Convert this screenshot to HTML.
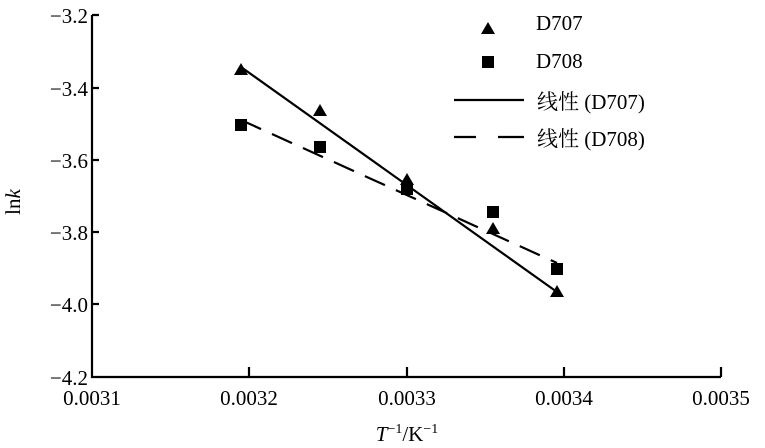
<!DOCTYPE html>
<html><head><meta charset="utf-8"><style>body{margin:0;background:#fff}svg{display:block}text{font-family:"Liberation Serif","Times New Roman","DejaVu Serif","Noto Serif CJK SC",serif;font-size:21px}</style></head><body>
<svg width="765" height="448" viewBox="0 0 765 448" xmlns="http://www.w3.org/2000/svg" fill="#000">
<g stroke="#000" stroke-width="2.2" fill="none">
<path d="M92,15 V377 H721"/>
<path d="M92,15h7M92,88h7M92,160h7M92,232h7M92,304h7"/>
<path d="M249,377v-10M407,377v-10M564,377v-10M721,377v-10"/>
<path d="M241,67 L557,292"/>
<path d="M241,120 L557,263" stroke-dasharray="22,12"/>
<path d="M454,100h70"/>
<path d="M454,137h22M498,137h26"/>
</g>
<g text-anchor="end">
<text x="88" y="23">−3.2</text><text x="88" y="96">−3.4</text><text x="88" y="168">−3.6</text><text x="88" y="240">−3.8</text><text x="88" y="312">−4.0</text><text x="88" y="385">−4.2</text>
</g>
<g text-anchor="middle">
<text x="92" y="405">0.0031</text><text x="249" y="405">0.0032</text><text x="407" y="405">0.0033</text><text x="564" y="405">0.0034</text><text x="721" y="405">0.0035</text>
<text x="407" y="441"><tspan font-style="italic">T</tspan><tspan style="font-size:14px" dy="-8">−1</tspan><tspan dy="8">/K</tspan><tspan style="font-size:14px" dy="-8">−1</tspan></text>
</g>
<text transform="translate(20,202) rotate(-90)" text-anchor="middle">ln<tspan font-style="italic">k</tspan></text>
<g>
<path d="M241,63l7,12h-14z M320,104l7,12h-14z M407,173l7,12h-14z M493,222l7,12h-14z M557,285l7,12h-14z M488,22l7,12h-14z"/>
<rect x="235" y="119" width="12" height="12"/><rect x="314" y="141" width="12" height="12"/><rect x="401" y="183" width="12" height="12"/><rect x="487" y="206" width="12" height="12"/><rect x="551" y="263" width="12" height="12"/><rect x="482" y="56" width="12" height="12"/>
</g>
<text x="536" y="30">D707</text><text x="536" y="68">D708</text>
<text x="537" y="109">线性 (D707)</text><text x="537" y="146">线性 (D708)</text>
</svg>
</body></html>
